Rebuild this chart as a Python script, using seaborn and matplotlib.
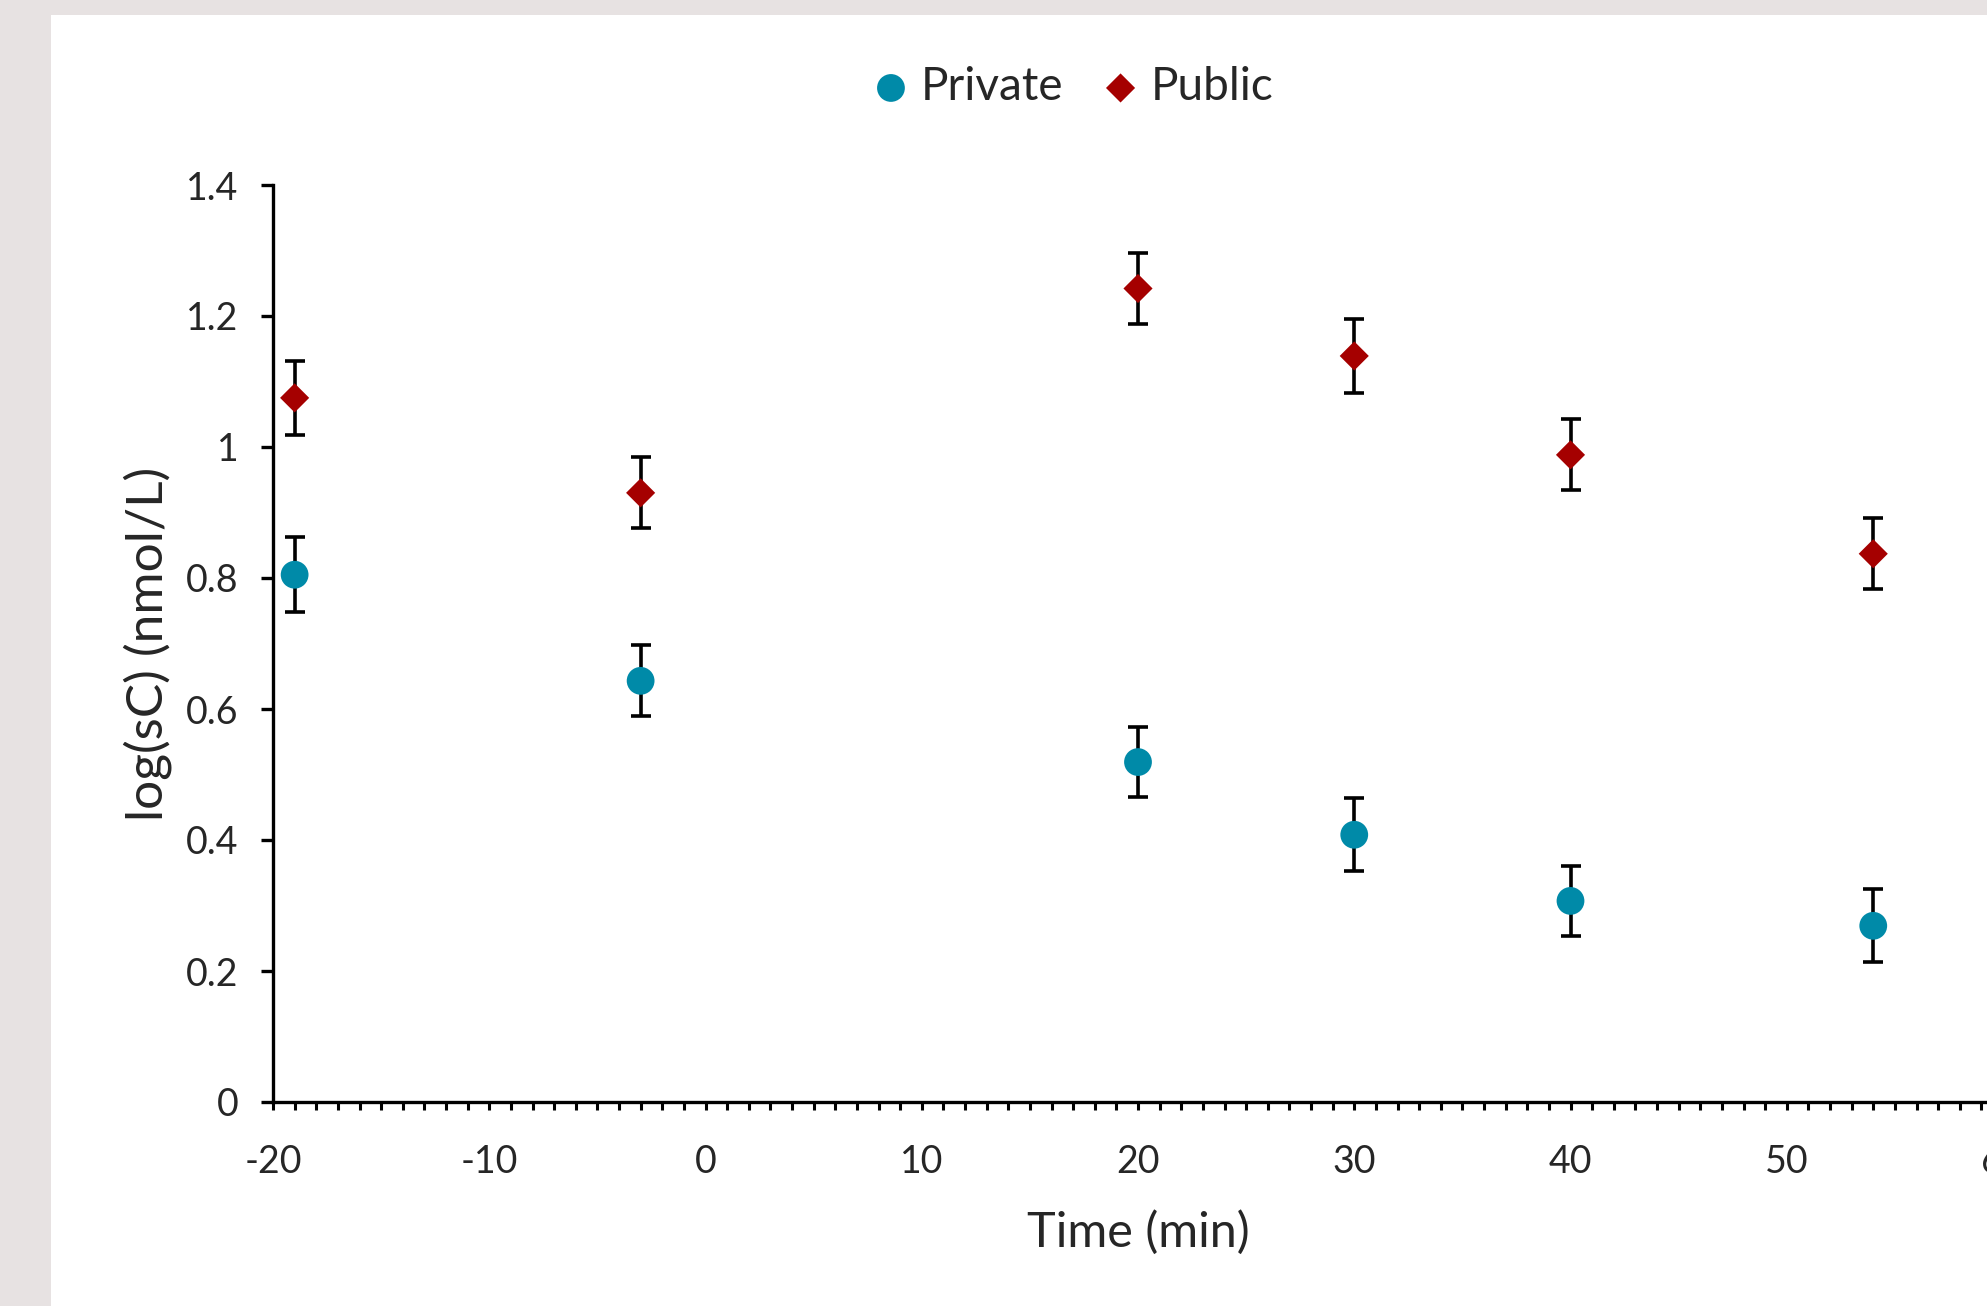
import matplotlib.pyplot as plt
import seaborn as sns
from matplotlib.patches import Rectangle
from matplotlib.ticker import MultipleLocator, FuncFormatter

# values
time = [-19, -3, 20, 30, 40, 54]
private = [0.805, 0.643, 0.519, 0.408, 0.307, 0.269]
private_err = [0.057, 0.054, 0.054, 0.056, 0.053, 0.056]
public = [1.075, 0.930, 1.242, 1.139, 0.988, 0.837]
public_err = [0.056, 0.054, 0.054, 0.056, 0.054, 0.054]

teal = "#008aa8"
red = "#a50000"

sns.set_theme(style="white")
plt.rcParams["font.family"] = ["Lato", "DejaVu Sans"]
plt.rcParams["axes.unicode_minus"] = False

W, H = 1987, 1306
fig = plt.figure(figsize=(W / 100, H / 100), dpi=100, facecolor="#e7e2e2")
# white chart area (grey border on the left and top)
fig.patches.append(Rectangle((51 / W, 0), 1, 1 - 15 / H, transform=fig.transFigure,
                             facecolor="white", edgecolor="none", zorder=-1))

# axes run past the right edge of the picture (the chart is cropped at x=60)
ax = fig.add_axes([273 / W, 204 / H, 1730 / W, 917 / H])
ax.set_facecolor("none")

for vals, errs in [(private, private_err), (public, public_err)]:
    ax.errorbar(time, vals, yerr=errs, fmt="none", ecolor="black",
                elinewidth=2.6, capsize=7.5, capthick=2.6, zorder=2)

sns.scatterplot(x=time, y=private, ax=ax, marker="o", s=400, color=teal,
                edgecolor="none", label="Private", zorder=3)
sns.scatterplot(x=time, y=public, ax=ax, marker="D", s=220, color=red,
                edgecolor="none", label="Public", zorder=3)

ax.set_xlim(-20, 60)
ax.set_ylim(0, 1.4)
ax.xaxis.set_major_locator(MultipleLocator(10))
ax.xaxis.set_minor_locator(MultipleLocator(1))
ax.yaxis.set_major_locator(MultipleLocator(0.2))
ax.yaxis.set_major_formatter(FuncFormatter(lambda v, p: "{:g}".format(round(v, 1))))

for side in ["top", "right"]:
    ax.spines[side].set_visible(False)
for side in ["left", "bottom"]:
    ax.spines[side].set_color("black")
    ax.spines[side].set_linewidth(2.4)

ax.tick_params(axis="x", which="both", direction="out", length=6, width=2.2,
               color="black", bottom=True, labelsize=27, pad=24)
ax.tick_params(axis="y", which="major", direction="out", length=9, width=2.4,
               color="black", left=True, labelsize=27, pad=16)

ax.set_xlabel("Time (min)", fontsize=35, labelpad=22)
ax.set_ylabel("log(sC) (nmol/L)", fontsize=37, labelpad=10)

ax.legend(loc="center", bbox_to_anchor=(1074 / W, 1 - 87 / H),
          bbox_transform=fig.transFigure, ncol=2, frameon=False, fontsize=33,
          handlelength=0.7, handletextpad=0.3, columnspacing=0.9)

fig.savefig("out.png", dpi=100, facecolor=fig.get_facecolor())
